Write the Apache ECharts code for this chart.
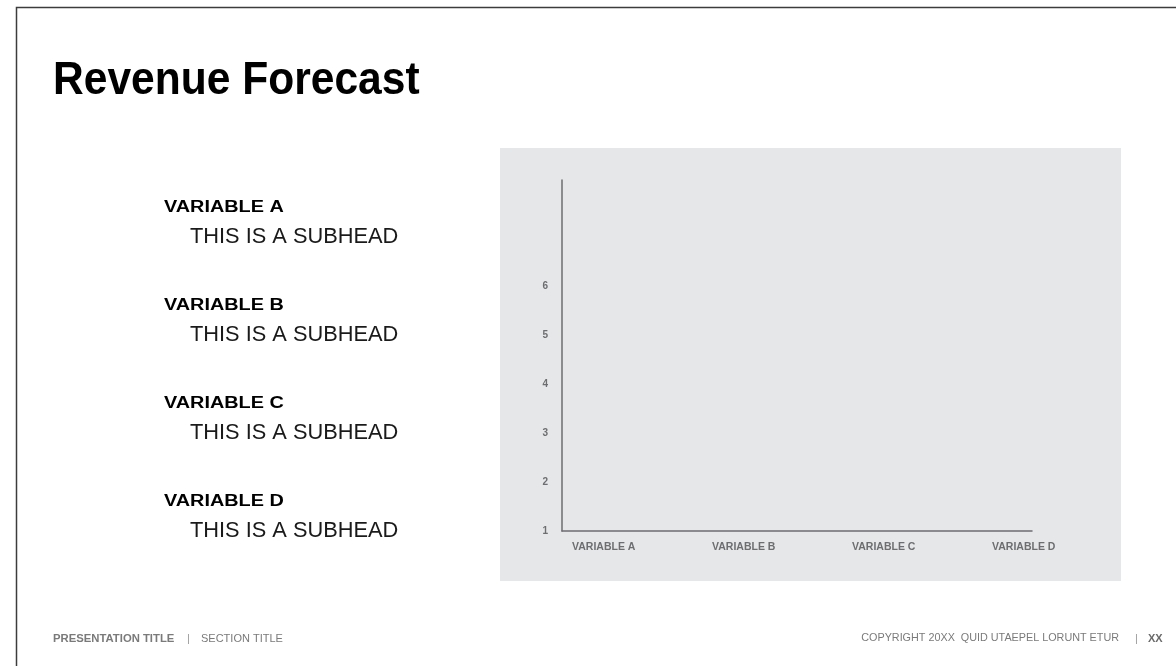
<!DOCTYPE html>
<html>
<head>
<meta charset="utf-8">
<title>Revenue Forecast</title>
<script src="https://cdn.jsdelivr.net/npm/echarts@6/dist/echarts.min.js"></script>
<style>
  html, body { margin: 0; padding: 0; background: #ffffff; }
  #slide { width: 1176px; height: 666px; }
</style>
</head>
<body>
<div id="slide"></div>
<script>
// Chart content
const title = 'Revenue Forecast';
const categories = ['VARIABLE A', 'VARIABLE B', 'VARIABLE C', 'VARIABLE D'];
const yTickLabels = [1, 2, 3, 4, 5, 6];
const yMin = 1;
const yMax = 8.163;
const values = [];            // no series values plotted yet
const sideItems = ['VARIABLE A', 'VARIABLE B', 'VARIABLE C', 'VARIABLE D'];
const subhead = 'THIS IS A SUBHEAD';
const footerLeft = ['PRESENTATION TITLE', 'SECTION TITLE'];
const footerRight = ['COPYRIGHT 20XX  QUID UTAEPEL LORUNT ETUR', 'XX'];

const FONT = '"Liberation Sans", Arial, Helvetica, sans-serif';
const AXIS_GRAY = '#6d6e71';

const chart = echarts.init(document.getElementById('slide'), null, { renderer: 'canvas' });

// category slots are 140px apart along a 470px axis line
const gridLeft = 562, gridTop = 180, gridWidth = 470, gridHeight = 351;
const slot = 140;

const graphics = [
  // gray chart panel
  { type: 'rect', z: -100, silent: true,
    shape: { x: 500, y: 148, width: 621, height: 433 },
    style: { fill: '#e6e7e8' } },
  // slide frame
  { type: 'polyline', z: 100, silent: true,
    shape: { points: [[16.5, 666], [16.5, 7.5], [1176, 7.5]] },
    style: { stroke: '#3c3c3c', lineWidth: 1.5, fill: null } },
  // title, condensed horizontally
  { type: 'text', x: 53, y: 58, scaleX: 0.925,
    style: { text: title, font: `bold 46px ${FONT}`, fill: '#000000' } }
];

// left-hand list of variables with subheads (headings set wide)
sideItems.forEach((name, i) => {
  const y = 200 + i * 98;
  graphics.push({ type: 'text', x: 164, y: y, scaleX: 1.24,
    style: { text: name, font: `bold 16px ${FONT}`, fill: '#000000' } });
  graphics.push({ type: 'text', x: 190, y: y + 26,
    style: { text: subhead, font: `21.8px ${FONT}`, fill: '#1a1a1a' } });
});

// footer
graphics.push(
  { type: 'text', left: 53, top: 633,
    style: { text: footerLeft[0], font: `bold 11.3px ${FONT}`, fill: '#7a7a7a' } },
  { type: 'text', left: 187, top: 633,
    style: { text: '|', font: `11px ${FONT}`, fill: '#9a9a9a' } },
  { type: 'text', left: 201, top: 633,
    style: { text: footerLeft[1], font: `11px ${FONT}`, fill: '#7a7a7a' } },
  { type: 'text', right: 57, top: 633,
    style: { text: footerRight[0], font: `10.8px ${FONT}`, fill: '#7a7a7a' } },
  { type: 'text', left: 1135, top: 633,
    style: { text: '|', font: `11px ${FONT}`, fill: '#9a9a9a' } },
  { type: 'text', left: 1148, top: 633,
    style: { text: footerRight[1], font: `bold 11px ${FONT}`, fill: '#6a6a6a' } }
);

const option = {
  animation: false,
  backgroundColor: 'transparent',
  textStyle: { fontFamily: FONT },
  graphic: graphics,
  grid: { left: gridLeft, top: gridTop, width: gridWidth, height: gridHeight, containLabel: false },
  xAxis: {
    type: 'value',
    min: 0,
    max: gridWidth / slot,
    interval: 1,
    axisLine: { show: true, onZero: false, lineStyle: { color: AXIS_GRAY, width: 1.5 } },
    axisTick: { show: false },
    splitLine: { show: false },
    axisLabel: {
      formatter: v => (Number.isInteger(v) && categories[v]) ? categories[v] : '',
      align: 'left',
      padding: [0, 0, 0, 10],
      margin: 11,
      color: AXIS_GRAY,
      fontWeight: 'bold',
      fontSize: 10.5,
      fontFamily: FONT
    }
  },
  yAxis: {
    type: 'value',
    min: yMin,
    max: yMax,
    interval: 1,
    axisLine: { show: true, onZero: false, lineStyle: { color: AXIS_GRAY, width: 1.5 } },
    axisTick: { show: false },
    splitLine: { show: false },
    axisLabel: {
      formatter: v => yTickLabels.includes(v) ? String(v) : '',
      margin: 14,
      padding: [0, 0, 10, 0],
      color: AXIS_GRAY,
      fontWeight: 'bold',
      fontSize: 10,
      fontFamily: FONT
    }
  },
  series: [{ type: 'bar', data: values }]
};

chart.setOption(option);
</script>
</body>
</html>
